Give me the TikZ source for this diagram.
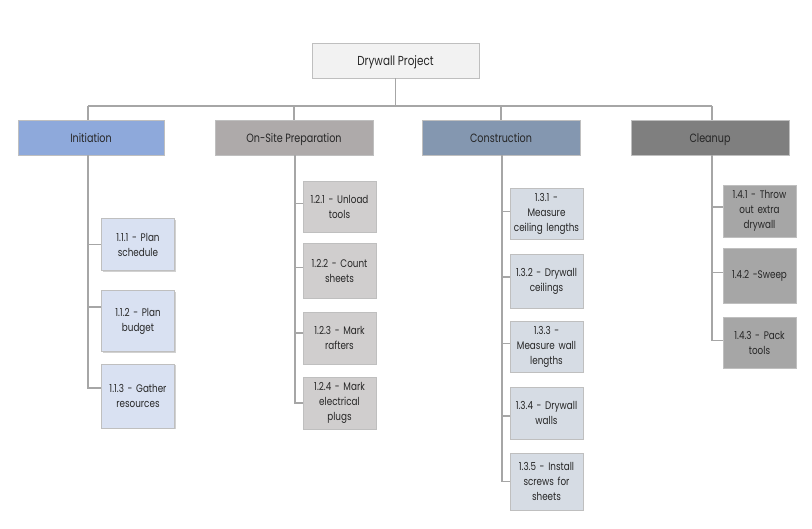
\documentclass[tikz,border=0pt]{standalone}
\usepackage{fontspec}
\setmainfont{Poppins}[FakeStretch=0.8]
\usetikzlibrary{shadows}
\definecolor{boxline}{HTML}{BFBFBF}
\definecolor{conn}{HTML}{A6A6A6}
\definecolor{txt}{HTML}{262626}
\definecolor{rootfill}{HTML}{F2F2F2}
\definecolor{initfill}{HTML}{8EA9DB}
\definecolor{prepfill}{HTML}{AEAAAA}
\definecolor{consfill}{HTML}{8497B0}
\definecolor{cleanfill}{HTML}{7F7F7F}
\definecolor{initc}{HTML}{D9E1F2}
\definecolor{prepc}{HTML}{D0CECE}
\definecolor{consc}{HTML}{D6DCE4}
\definecolor{cleanc}{HTML}{A6A6A6}
\begin{document}
\begin{tikzpicture}[x=1pt,y=-1pt,
  box/.style={draw=boxline, line width=0.8pt, align=center, inner sep=1pt, text=txt,
    drop shadow={shadow xshift=1.2pt, shadow yshift=-1.2pt, fill=black, opacity=0.18}},
  rootbox/.style={box, fill=rootfill, minimum width=167pt, minimum height=35pt, text height=12pt, text depth=2pt, font=\fontsize{13}{15}\selectfont},
  lvlbox/.style={box, minimum width=158pt, minimum height=35pt, text height=12pt, text depth=2pt, font=\fontsize{12}{14}\selectfont},
  kid/.style={box, text width=71pt, minimum width=72pt, font=\fontsize{11}{15}\selectfont},
  link/.style={draw=conn, line width=1.4pt}]
\useasboundingbox (0,0) rectangle (812,528);
\fill[white] (0,0) rectangle (812,528);

% root and level 1
\node[rootbox] (root) at (395.5,60.5) {Drywall Project};
\node[lvlbox, fill=initfill, minimum width=146pt] (init) at (91,137.5) {Initiation};
\node[lvlbox, fill=prepfill] (prep) at (294,137.5) {On-Site Preparation};
\node[lvlbox, fill=consfill] (cons) at (501,137.5) {Construction};
\node[lvlbox, fill=cleanfill] (clean) at (710,137.5) {Cleanup};

% Initiation children
\node[kid, fill=initc, minimum height=52pt] (a1) at (138,244.5) {1.1.1 - Plan\\schedule};
\node[kid, fill=initc, minimum height=61pt] (a2) at (138,321) {1.1.2 - Plan\\budget};
\node[kid, fill=initc, minimum height=64pt] (a3) at (138,396) {1.1.3 - Gather\\resources};

% On-Site children
\node[kid, fill=prepc, minimum height=51pt] (b1) at (339.5,206.5) {1.2.1 - Unload\\tools};
\node[kid, fill=prepc, minimum height=55pt] (b2) at (339.5,270.5) {1.2.2 - Count\\sheets};
\node[kid, fill=prepc, minimum height=52pt] (b3) at (339.5,338) {1.2.3 - Mark\\rafters};
\node[kid, fill=prepc, minimum height=52pt] (b4) at (339.5,403) {1.2.4 - Mark\\electrical\\plugs};

% Construction children
\node[kid, fill=consc, minimum height=51pt] (c1) at (546.5,213.5) {1.3.1 -\\Measure\\ceiling lengths};
\node[kid, fill=consc, minimum height=54pt] (c2) at (546.5,281) {1.3.2 - Drywall\\ceilings};
\node[kid, fill=consc, minimum height=51pt] (c3) at (546.5,346.5) {1.3.3 -\\Measure wall\\lengths};
\node[kid, fill=consc, minimum height=52pt] (c4) at (546.5,413) {1.3.4 - Drywall\\walls};
\node[kid, fill=consc, minimum height=57pt] (c5) at (546.5,481.5) {1.3.5 - Install\\screws for\\sheets};

% Cleanup children
\node[kid, fill=cleanc, minimum height=52pt] (d1) at (759.5,211) {1.4.1 - Throw\\out extra\\drywall};
\node[kid, fill=cleanc, minimum height=55pt] (d2) at (759.5,275.5) {1.4.2 -Sweep};
\node[kid, fill=cleanc, minimum height=51pt] (d3) at (759.5,342.5) {1.4.3 - Pack\\tools};

% top connectors
\coordinate (barL) at (88,106);
\coordinate (barR) at (712,106);
\coordinate (busC) at (root.south |- barL);
\path[link] (root.south) -- (busC);
\path[link] (barL) -- (barR);
\path[link] (barL) -- (barL |- init.north);
\path[link] (prep.north |- barL) -- (prep.north);
\path[link] (cons.north |- barL) -- (cons.north);
\path[link] (barR) -- (barR |- clean.north);

% spines
\coordinate (sa) at (88,155);
\coordinate (sb) at (295,155);
\coordinate (sc) at (502,155);
\coordinate (sd) at (712,155);
\path[link] (sa) |- ([yshift=8pt]a3.west);
\path[link] (sa |- a1.west) -- (a1.west);
\path[link] (sa |- a2.west) ++(0,-14) coordinate (ta2) -- (ta2 -| a2.west);
\path[link] (sb) |- (b4.west);
\path[link] (sb |- b1.west) ++(0,-3) coordinate (tb1) -- (tb1 -| b1.west);
\path[link] (sb |- b2.west) ++(0,-3) coordinate (tb2) -- (tb2 -| b2.west);
\path[link] (sb |- b3.west) ++(0,-5) coordinate (tb3) -- (tb3 -| b3.west);
\path[link] (sc) |- (c5.west);
\path[link] (sc |- c1.west) ++(0,-2) coordinate (tc1) -- (tc1 -| c1.west);
\path[link] (sc |- c2.west) ++(0,-4) coordinate (tc2) -- (tc2 -| c2.west);
\path[link] (sc |- c3.west) ++(0,-3) coordinate (tc3) -- (tc3 -| c3.west);
\path[link] (sc |- c4.west) ++(0,3) coordinate (tc4) -- (tc4 -| c4.west);
\path[link] (sd) |- ([yshift=2pt]d3.west);
\path[link] (sd |- d1.west) ++(0,-4) coordinate (td1) -- (td1 -| d1.west);
\path[link] (sd |- d2.west) ++(0,-3) coordinate (td2) -- (td2 -| d2.west);
\end{tikzpicture}
\end{document}
